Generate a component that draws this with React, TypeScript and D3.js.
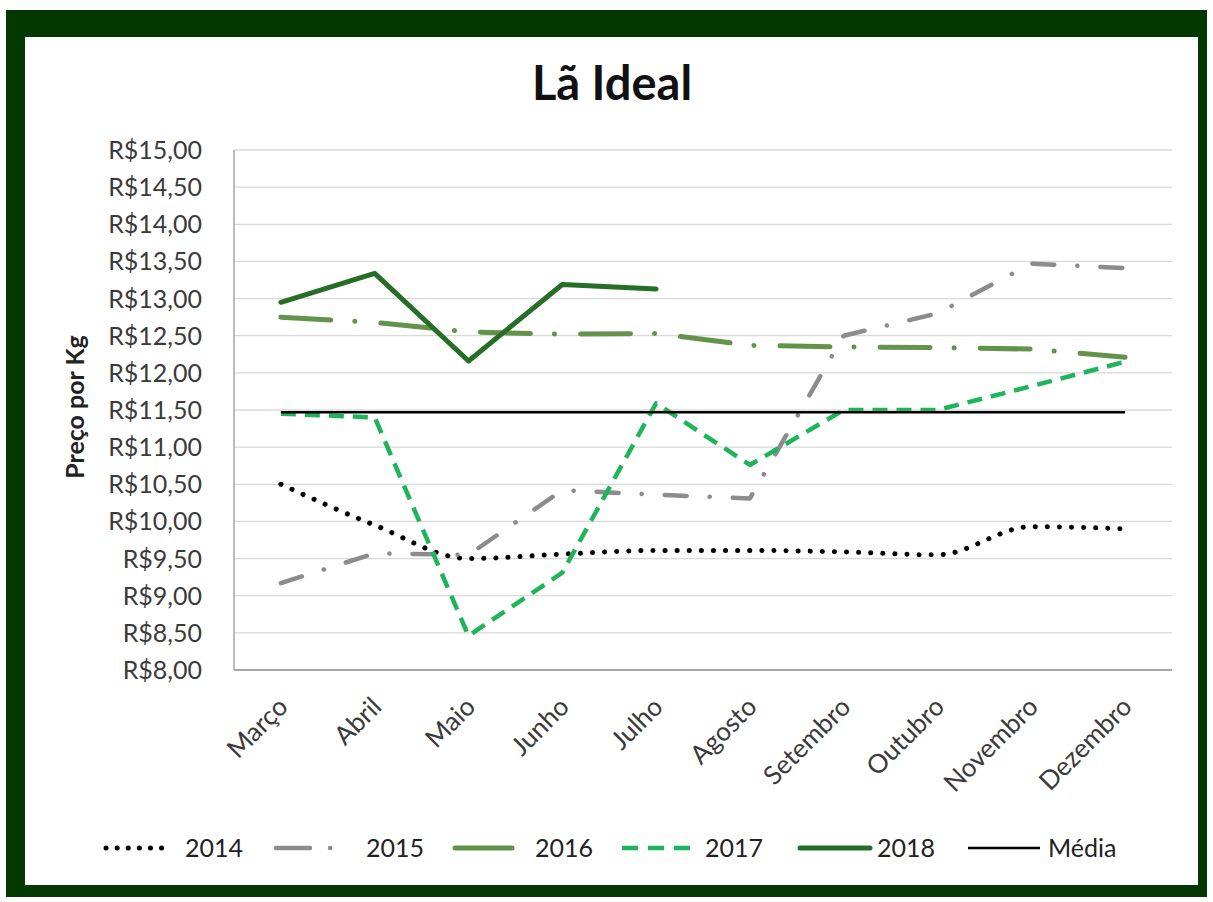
import React from "react";
import * as d3 from "d3";

const months = ["Março","Abril","Maio","Junho","Julho","Agosto","Setembro","Outubro","Novembro","Dezembro"];
const y2014 = [10.5, 9.95, 9.5, 9.56, 9.61, 9.61, 9.59, 9.55, 9.93, 9.9];
const y2015 = [9.17, 9.57, 9.55, 10.42, 10.36, 10.31, 12.5, 12.8, 13.47, 13.41];
const y2016 = [12.75, 12.68, 12.55, 12.52, 12.53, 12.37, 12.35, 12.34, 12.32, 12.21];
const y2017 = [11.45, 11.4, 8.46, 9.31, 11.59, 10.76, 11.5, 11.5, 11.82, 12.15];
const y2018 = [12.95, 13.34, 12.16, 13.19, 13.13];
const media = [11.47, 11.47, 11.47, 11.47, 11.47, 11.47, 11.47, 11.47, 11.47, 11.47];
const yTicks = [8, 8.5, 9, 9.5, 10, 10.5, 11, 11.5, 12, 12.5, 13, 13.5, 14, 14.5, 15];

const FONT = "Lato, 'Open Sans', sans-serif";

const series = [
  { name: "2014", values: y2014, color: "#000000", dash: "0.1 12", legDash: "0.1 11", width: 5, cap: "round", curve: d3.curveMonotoneX },
  { name: "2015", values: y2015, color: "#8c8c8c", dash: "22 23 0.1 23", legDash: "34 20 0.1 100", width: 4.5, cap: "round", curve: d3.curveLinear },
  { name: "2016", values: y2016, color: "#63924a", dash: "50 24 0.1 26", legDash: "", width: 5, cap: "round", curve: d3.curveLinear },
  { name: "2017", values: y2017, color: "#1db45a", dash: "15 9", legDash: "16 10", width: 4.5, cap: "butt", curve: d3.curveLinear },
  { name: "2018", values: y2018, color: "#266e26", dash: "", legDash: "", width: 5, cap: "round", curve: d3.curveLinear },
  { name: "Média", values: media, color: "#000000", dash: "", legDash: "", width: 2.5, cap: "butt", curve: d3.curveLinear },
];

const legendSamples = [
  { x: 106, w: 66, tx: 185 },
  { x: 276, w: 56, tx: 366 },
  { x: 455, w: 57, tx: 535 },
  { x: 622, w: 68, tx: 705 },
  { x: 800, w: 70, tx: 877 },
  { x: 968, w: 72, tx: 1048 },
];

export default function App() {
  const W = 1213, H = 902;
  const left = 234, right = 1172, top = 150, bottom = 670;
  const x = d3.scaleBand<string>().domain(months).range([left, right]);
  const y = d3.scaleLinear().domain([8, 15]).range([bottom, top]);
  const cx = (m: string) => (x(m) as number) + x.bandwidth() / 2;

  return (
    <svg width={W} height={H} style={{ position: "absolute", left: 0, top: 0, fontFamily: FONT }}>
      <rect x={6} y={10} width={1201} height={887} fill="#033803" />
      <rect x={25} y={37} width={1173} height={848} fill="#ffffff" />
      <text x={612} y={100} textAnchor="middle" fontSize={47} fontWeight="bold" fill="#111">Lã Ideal</text>

      {yTicks.map((t) => (
        <g key={t}>
          <line x1={left} x2={right} y1={y(t)} y2={y(t)} stroke={t === 8 ? "#a6a6a6" : "#d9d9d9"} strokeWidth={t === 8 ? 2 : 1.3} />
          <text x={left - 32} y={y(t)} dy="0.36em" textAnchor="end" fontSize={25} fill="#3a3a3a">
            {"R$" + d3.format(".2f")(t).replace(".", ",")}
          </text>
        </g>
      ))}
      <line x1={left} x2={left} y1={top} y2={bottom} stroke="#a6a6a6" strokeWidth={1.5} />

      <text transform={`translate(84,${407}) rotate(-90)`} textAnchor="middle" fontSize={25} fontWeight="bold" fill="#222">Preço por Kg</text>

      {months.map((m) => (
        <text key={m} transform={`translate(${cx(m) + 2},${bottom + 32}) rotate(-45)`} textAnchor="end" dy="0.35em" fontSize={26} fill="#3a3a3a">{m}</text>
      ))}

      {series.map((s) => {
        const gen = d3.line<number>().x((_, i) => cx(months[i])).y((v) => y(v)).curve(s.curve);
        return (
          <path key={s.name} d={gen(s.values) || ""} fill="none" stroke={s.color} strokeWidth={s.width}
            strokeDasharray={s.dash || undefined} strokeLinecap={s.cap as any} strokeLinejoin="round" />
        );
      })}

      {series.map((s, i) => {
        const L = legendSamples[i];
        return (
          <g key={"lg" + s.name}>
            <line x1={L.x} x2={L.x + L.w} y1={848} y2={848} stroke={s.color} strokeWidth={s.width}
              strokeDasharray={s.legDash || undefined} strokeLinecap={s.cap as any} />
            <text x={L.tx} y={848} dy="0.36em" fontSize={25} fill="#222">{s.name}</text>
          </g>
        );
      })}
    </svg>
  );
}
